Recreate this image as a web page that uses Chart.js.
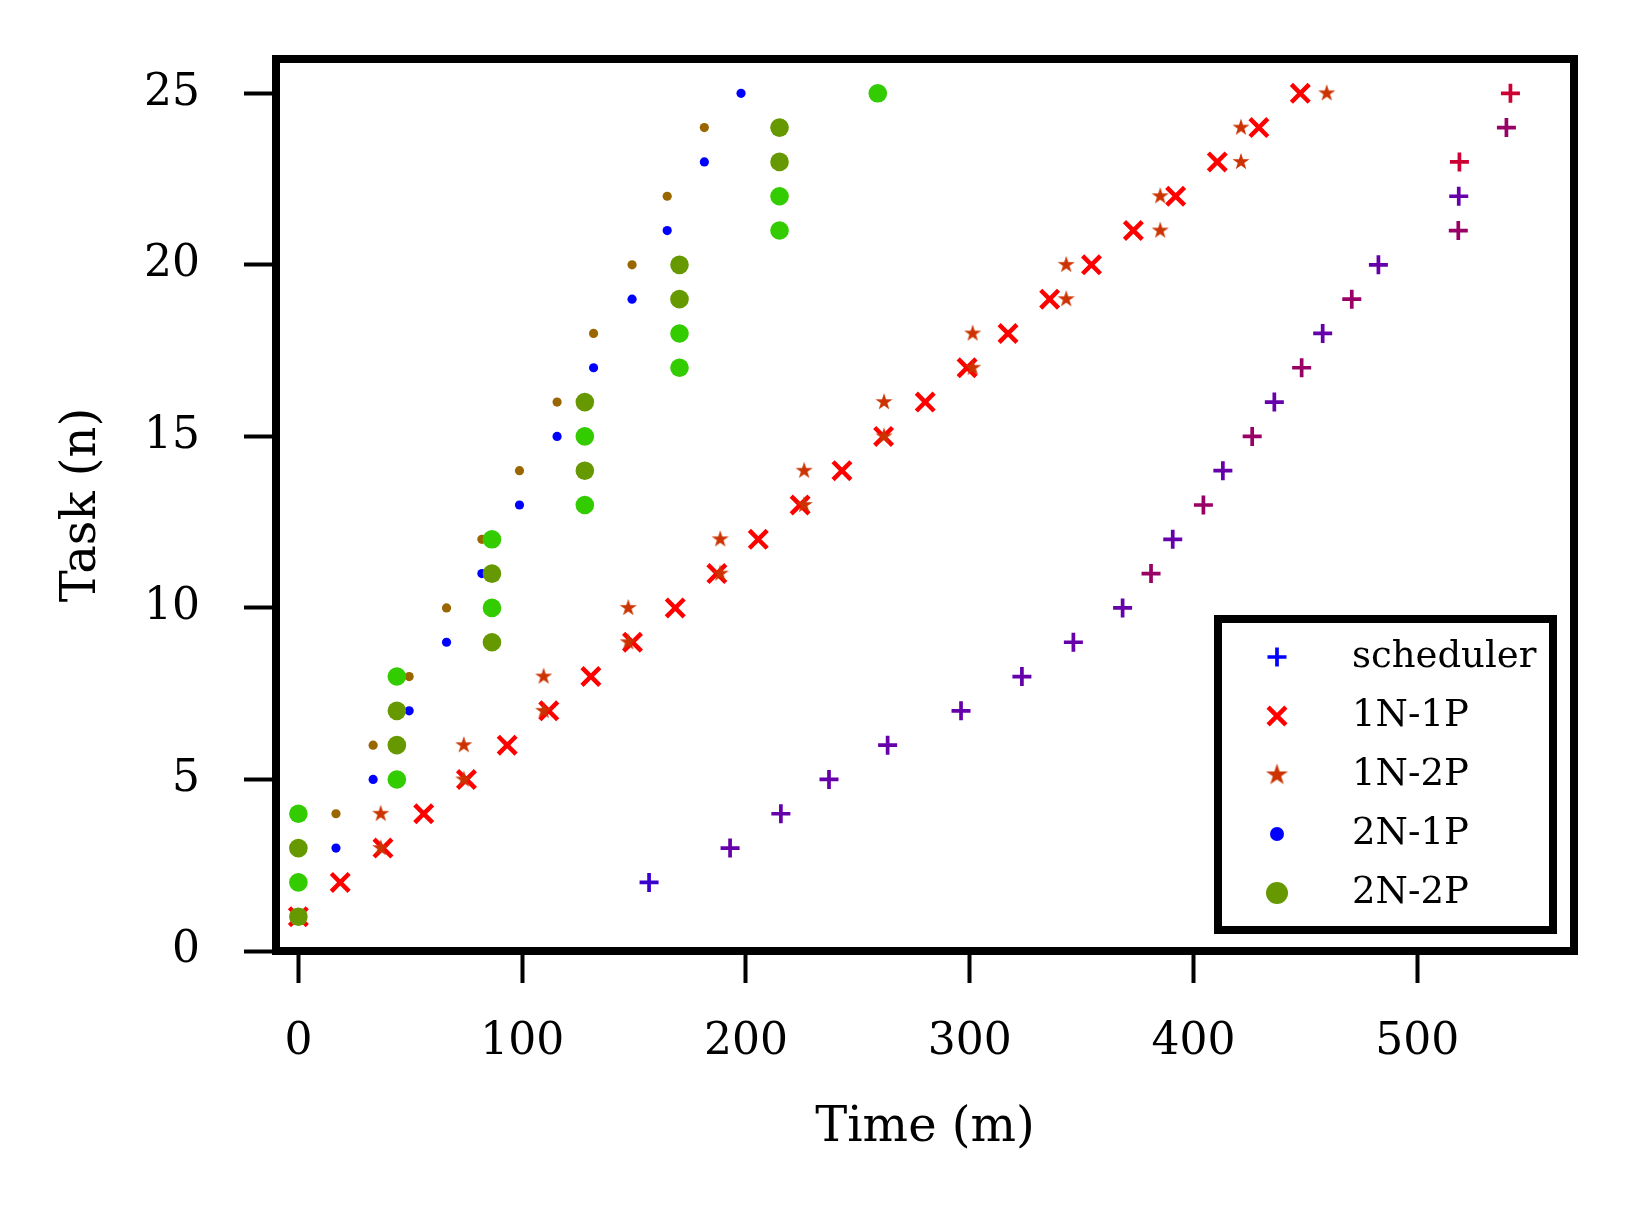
<!DOCTYPE html>
<html>
<head>
<meta charset="utf-8">
<title>Task completion time</title>
<script src="https://cdn.jsdelivr.net/npm/chart.js@4.4.1/dist/chart.umd.min.js"></script>
<style>
  html, body { margin: 0; padding: 0; background: #fff; }
  #wrap { width: 1634px; height: 1212px; position: relative; }
</style>
</head>
<body>
<div id="wrap"><canvas id="taskChart"></canvas></div>
<script>
// TASK NUMBER (y) AND AXIS TICKS
const tasks = [1, 2, 3, 4, 5, 6, 7, 8, 9, 10, 11, 12, 13, 14, 15, 16, 17, 18, 19, 20, 21, 22, 23, 24, 25];
const xTicks = [0, 100, 200, 300, 400, 500];
const yTicks = [0, 5, 10, 15, 20, 25];

// TIME (m) FOR EACH TASK, null = no point
const scheduler = [null, 156.7, 192.9, 215.6, 237.1, 263.3, 296.1, 323.3, 346.3, 368.3,
  381.0, 390.7, 404.4, 413.1, 426.2, 436.1, 448.3, 457.7, 470.7, 482.6,
  518.3, 518.5, 518.8, 539.8, 541.6];
const oneNodeOneProc = [0, 18.7, 37.8, 56.0, 75.1, 93.3, 111.9, 130.7, 149.3, 168.4,
  187.0, 205.5, 224.2, 242.9, 261.5, 280.1, 298.8, 317.1, 335.7, 354.4,
  373.1, 392.0, 410.6, 429.2, 447.7];
const oneNodeTwoProc = [0, 0, 36.8, 36.8, 73.9, 73.9, 109.6, 109.6, 147.4, 147.4,
  188.5, 188.5, 226.0, 226.0, 261.7, 261.7, 301.3, 301.3, 343.1, 343.1,
  385.1, 385.1, 421.2, 421.2, 459.5];
const twoNodeOneProc = [0, 0, 16.8, 16.8, 33.4, 33.4, 49.5, 49.5, 66.2, 66.2,
  82.0, 82.0, 98.8, 98.8, 115.6, 115.6, 131.9, 131.9, 149.1, 149.1,
  164.8, 164.8, 181.4, 181.4, 197.8];
const twoNodeTwoProc = [0, 0, 0, 0, 44.0, 44.0, 44.0, 44.0, 86.5, 86.5,
  86.5, 86.5, 128.0, 128.0, 128.0, 128.0, 170.3, 170.3, 170.3, 170.3,
  215.0, 215.0, 215.0, 215.0, 258.9];

const seriesNames = ["scheduler", "1N-1P", "1N-2P", "2N-1P", "2N-2P"];

// POINT COLOURS
const V = "#3a00cc", P = "#6600aa", M = "#990066", R = "#cc0033";
const schedulerColors = [P, V, P, P, P, P, P, P, P, P,
  M, P, M, P, M, P, M, P, M, P,
  M, P, R, M, R];
const BL = "#0000ff", BR = "#996600";
const twoNodeOneProcColors = [BL, BR, BL, BR, BL, BR, BL, BR, BL, BR,
  BL, BR, BL, BR, BL, BR, BL, BR, BL, BR,
  BL, BR, BL, BR, BL];
const G = "#33cc00", O = "#669900";
const twoNodeTwoProcColors = [O, G, O, G, G, O, O, G, O, G,
  O, G, G, O, G, O, G, G, O, O,
  G, G, O, O, G];

const FONT = "'DejaVu Serif', serif";
Chart.defaults.font.family = FONT;
Chart.defaults.color = "#000";

// filter out missing points, keeping colours in step
function points(xs) {
  return tasks.map((t, i) => ({ x: xs[i], y: t })).filter(p => p.x !== null);
}
function colorsFor(xs, cols) {
  return cols.filter((c, i) => xs[i] !== null);
}

// filled five point star used as a marker
function starImage(r, color) {
  const c = document.createElement("canvas");
  const s = Math.ceil(r * 2 + 4);
  c.width = s; c.height = s;
  const g = c.getContext("2d");
  g.fillStyle = color;
  g.beginPath();
  for (let k = 0; k < 10; k++) {
    const rr = k % 2 ? r * 0.382 : r;
    const a = -Math.PI / 2 + k * Math.PI / 5;
    g.lineTo(s / 2 + rr * Math.cos(a), s / 2 + rr * Math.sin(a));
  }
  g.closePath();
  g.fill();
  return c;
}
const STAR = "#cc3300";
const starMarker = starImage(9, STAR);
const starLegend = starImage(11.5, STAR);

// LEGEND ENTRIES
const legendItems = [
  { label: seriesNames[0], kind: "plus", color: "#0000ff" },
  { label: seriesNames[1], kind: "x", color: "#ff0000" },
  { label: seriesNames[2], kind: "star", color: STAR },
  { label: seriesNames[3], kind: "dot", color: "#0000ff" },
  { label: seriesNames[4], kind: "circle", color: "#669900" }
];

function drawMarker(ctx, kind, x, y, color) {
  ctx.save();
  ctx.strokeStyle = color;
  ctx.fillStyle = color;
  if (kind === "plus") {
    ctx.lineWidth = 3.7;
    ctx.beginPath();
    ctx.moveTo(x - 9.5, y); ctx.lineTo(x + 9.5, y);
    ctx.moveTo(x, y - 9.5); ctx.lineTo(x, y + 9.5);
    ctx.stroke();
  } else if (kind === "x") {
    const d = 8.9;
    ctx.lineWidth = 4.5;
    ctx.beginPath();
    ctx.moveTo(x - d, y - d); ctx.lineTo(x + d, y + d);
    ctx.moveTo(x - d, y + d); ctx.lineTo(x + d, y - d);
    ctx.stroke();
  } else if (kind === "star") {
    ctx.drawImage(starLegend, x - starLegend.width / 2, y - starLegend.height / 2);
  } else {
    ctx.beginPath();
    ctx.arc(x, y, kind === "dot" ? 7 : 11, 0, Math.PI * 2);
    ctx.fill();
  }
  ctx.restore();
}

// FRAME + LEGEND BOX
const framePlugin = {
  id: "frameAndLegend",
  afterDraw(chart) {
    const { ctx, chartArea: a } = chart;
    ctx.save();
    ctx.lineWidth = 8;
    ctx.strokeStyle = "#000";
    ctx.strokeRect(a.left, a.top, a.right - a.left, a.bottom - a.top);

    const bw = 335, bh = 311;
    const bx = a.right - 21 - bw, by = a.bottom - 21 - bh;
    ctx.fillStyle = "#fff";
    ctx.fillRect(bx, by, bw, bh);
    ctx.strokeRect(bx, by, bw, bh);

    ctx.font = "37px " + FONT;
    ctx.textBaseline = "middle";
    ctx.textAlign = "left";
    legendItems.forEach((item, i) => {
      const y = by + 38 + i * 59;
      drawMarker(ctx, item.kind, bx + 59, y, item.color);
      ctx.fillStyle = "#000";
      ctx.fillText(item.label, bx + 134, y);
    });
    ctx.restore();
  }
};

new Chart(document.getElementById("taskChart"), {
  type: "scatter",
  data: {
    datasets: [
      {
        label: seriesNames[0],
        data: points(scheduler),
        pointStyle: "cross",
        pointRadius: 9.5,
        pointBorderWidth: 3.7,
        pointBorderColor: colorsFor(scheduler, schedulerColors),
        pointBackgroundColor: colorsFor(scheduler, schedulerColors),
        order: 5
      },
      {
        label: seriesNames[1],
        data: points(oneNodeOneProc),
        pointStyle: "crossRot",
        pointRadius: 12.6,
        pointBorderWidth: 4.5,
        pointBorderColor: "#ff0000",
        pointBackgroundColor: "#ff0000",
        order: 4
      },
      {
        label: seriesNames[2],
        data: points(oneNodeTwoProc),
        pointStyle: starMarker,
        pointRadius: 9,
        order: 3
      },
      {
        label: seriesNames[3],
        data: points(twoNodeOneProc),
        pointStyle: "circle",
        pointRadius: 4.6,
        pointBorderWidth: 0,
        pointBackgroundColor: colorsFor(twoNodeOneProc, twoNodeOneProcColors),
        order: 2
      },
      {
        label: seriesNames[4],
        data: points(twoNodeTwoProc),
        pointStyle: "circle",
        pointRadius: 9.3,
        pointBorderWidth: 0,
        pointBackgroundColor: colorsFor(twoNodeTwoProc, twoNodeTwoProcColors),
        order: 1
      }
    ]
  },
  options: {
    responsive: true,
    maintainAspectRatio: false,
    animation: false,
    events: [],
    layout: { padding: { top: 59, right: 60, bottom: 0, left: 0 } },
    plugins: {
      legend: { display: false },
      tooltip: { enabled: false }
    },
    scales: {
      x: {
        type: "linear",
        min: -10,
        max: 570,
        afterBuildTicks: s => { s.ticks = xTicks.map(v => ({ value: v })); },
        afterFit: s => { s.height = 261; s.paddingLeft = 0; s.paddingRight = 0; },
        border: { display: false },
        grid: { drawOnChartArea: false, tickLength: 32, tickWidth: 4, tickColor: "#000", color: "#000" },
        ticks: { padding: 33, color: "#000", font: { size: 44 }, maxRotation: 0, autoSkip: false },
        title: { display: true, text: "Time (m)", color: "#000", font: { size: 48 }, padding: { top: 0, bottom: 55 } }
      },
      y: {
        type: "linear",
        min: 0,
        max: 26,
        afterBuildTicks: s => { s.ticks = yTicks.map(v => ({ value: v })); },
        afterFit: s => { s.width = 276; s.paddingTop = 0; s.paddingBottom = 0; },
        border: { display: false },
        grid: { drawOnChartArea: false, tickLength: 32, tickWidth: 4, tickColor: "#000", color: "#000" },
        ticks: { padding: 44, color: "#000", font: { size: 44 }, autoSkip: false },
        title: { display: true, text: "Task (n)", color: "#000", font: { size: 48 }, padding: { top: 54, bottom: 0 } }
      }
    }
  },
  plugins: [framePlugin]
});
</script>
</body>
</html>
